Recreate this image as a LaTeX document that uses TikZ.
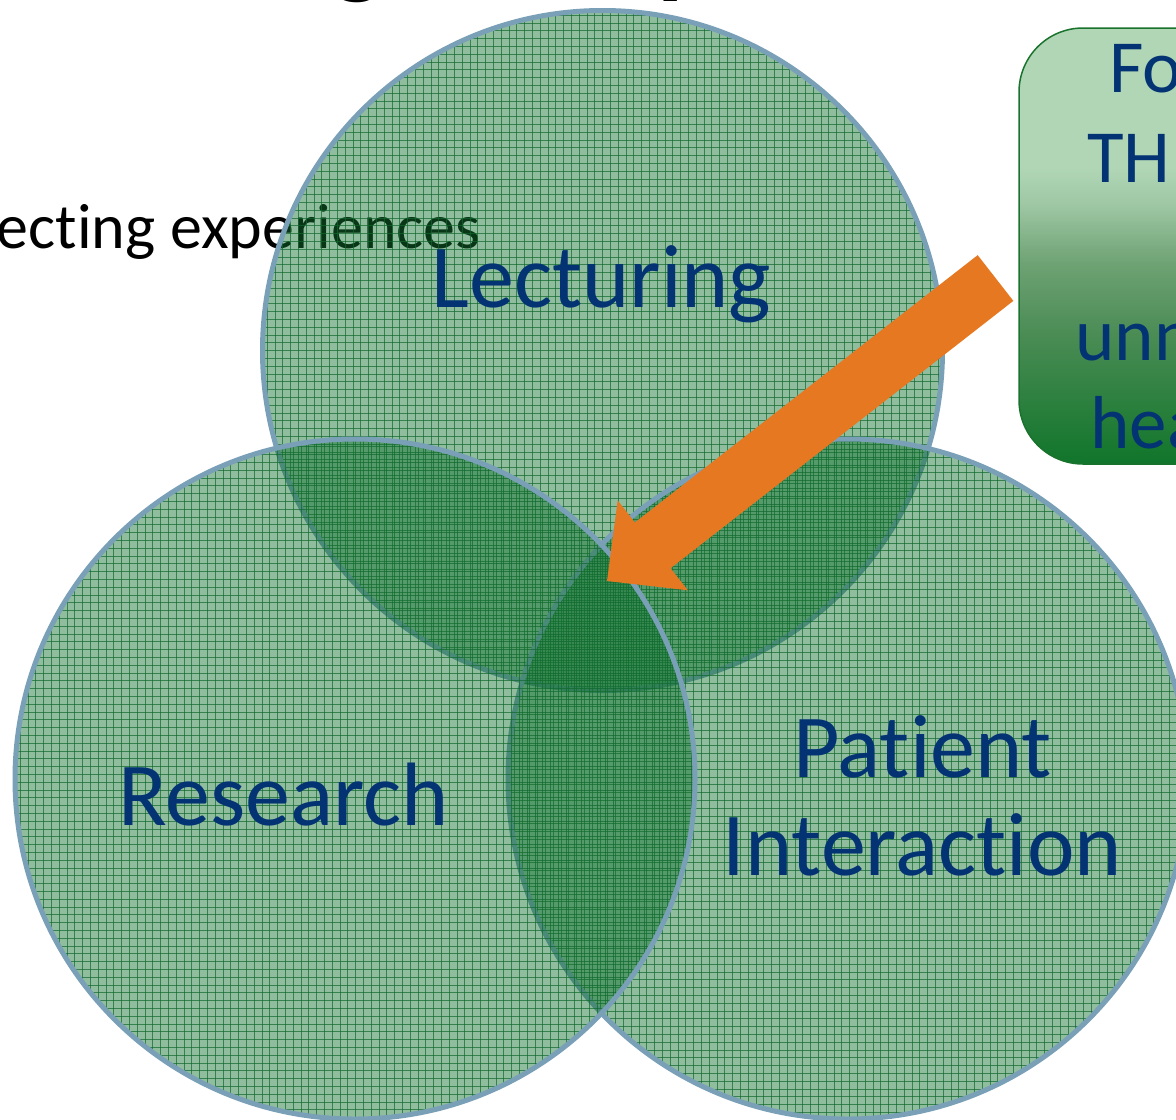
\documentclass[tikz,border=0pt]{standalone}
\usepackage{fontspec}
\setmainfont{Carlito}[Ligatures={NoCommon,NoContextual,NoRare}]
\usetikzlibrary{calc}
\definecolor{lblue}{RGB}{3,51,115}
\definecolor{edgec}{RGB}{122,160,184}
\definecolor{vennfillc}{RGB}{20,115,50}
\definecolor{gridc}{RGB}{15,105,45}
\definecolor{arrowc}{RGB}{230,120,34}
\definecolor{boxedge}{RGB}{25,115,45}
\definecolor{bdark}{RGB}{16,117,42}
\definecolor{bmida}{RGB}{75,140,85}
\definecolor{bmidb}{RGB}{110,162,116}
\definecolor{bmidc}{RGB}{160,200,165}
\definecolor{blight}{RGB}{176,214,182}
\pgfdeclareverticalshading{boxgrad}{100bp}{color(0bp)=(bdark); color(25bp)=(bdark); color(40bp)=(bmida); color(48bp)=(bmidb); color(55bp)=(bmidc); color(59bp)=(blight); color(100bp)=(blight)}
\tikzset{
  vennfill/.style={fill=vennfillc, fill opacity=0.47},
  vennedge/.style={draw=edgec, line width=2.5pt},
  gridln/.style={draw=gridc, line width=0.5pt, draw opacity=0.7},
  vennlabel/.style={text=lblue, font=\fontsize{45}{49}\selectfont, inner sep=0pt, anchor=base},
  boxtext/.style={text=lblue, font=\fontsize{37.5}{45}\selectfont, inner sep=0pt, anchor=base west},
  titletext/.style={text=black, font=\bfseries\fontsize{54}{60}\selectfont, inner sep=0pt, anchor=base west},
  sidetext/.style={text=black, font=\fontsize{32}{38}\selectfont, inner sep=0pt, anchor=base east},
  focusbox/.style={draw=boxedge, line width=0.75pt, rounded corners=32pt, shading=boxgrad, minimum width=240.5pt, minimum height=218pt, inner sep=0pt},
  blockarrow/.style={fill=arrowc}
}
% #1 cx, #2 cy, #3 x phase, #4 y phase
\newcommand\vennDisc[4]{%
  \fill[vennfill] (#1,#2) circle[radius=170pt];
  \begin{scope}
    \clip (#1,#2) circle[radius=170pt];
    \foreach \k in {0,...,88}{
      \draw[gridln] ({#1-343+#3+\k*7.8},{#2-343}) -- ({#1-343+#3+\k*7.8},{#2+343});
      \draw[gridln] ({#1-343},{#2-343+#4+\k*7.8}) -- ({#1+343},{#2-343+#4+\k*7.8});
    }
  \end{scope}
  \draw[vennedge] (#1,#2) circle[radius=170pt];
}
\begin{document}
\begin{tikzpicture}[x=0.5pt,y=-0.5pt]
  \useasboundingbox (0,0) rectangle (1176,1119);
  \clip (0,0) rectangle (1176,1119);
  \fill[white] (0,0) rectangle (1176,1119);

  % partly visible title glyphs and side text (behind the circles)
  \node[titletext] (titleg) at (332,-15) {g};
  \node[titletext] (titlep) at (657,-15) {p};
  \node[sidetext] (side) at (481,248) {ecting experiences};

  % Venn circles: Lecturing (bottom layer), Patient Interaction, Research (top layer)
  \coordinate (clect) at (602.5,350.5);
  \coordinate (cpat) at (848,779);
  \coordinate (cres) at (355,779);
  \vennDisc{602.5}{350.5}{0}{0}
  \vennDisc{848}{779}{1.5}{5.7}
  \vennDisc{355}{779}{0.5}{3.1}

  % labels
  \node[vennlabel] (lect) at (601.5,307) {Lecturing};
  \node[vennlabel] (res) at (283.5,825) {Research};
  \node[vennlabel] (pat) at (922.5,777) {\begin{tabular}[t]{@{}c@{}}Patient\\Interaction\end{tabular}};

  % box on the right
  \node[focusbox] (box) at (1259.5,246) {};
  \node[boxtext] (bt1) at (1109,92) {Fo};
  \node[boxtext] (bt2) at (1087,182) {TH};
  \node[boxtext] (bt3) at (1075,360) {unn};
  \node[boxtext] (bt4) at (1090,448) {hea};

  % block arrow from the box to the centre
  \coordinate (atail) at (995.5,278);
  \coordinate (atip) at (607,581);
  \coordinate (aneck) at ($(atip)!29pt!(atail)$);
  \fill[blockarrow] ($(atail)!14.5pt!90:(atip)$) -- ($(aneck)!14.5pt!90:(atip)$)
    -- ($(aneck)!28.5pt!90:(atip)$) -- (atip) -- ($(aneck)!28.5pt!-90:(atip)$)
    -- ($(aneck)!14.5pt!-90:(atip)$) -- ($(atail)!14.5pt!-90:(atip)$) -- cycle;
\end{tikzpicture}
\end{document}
